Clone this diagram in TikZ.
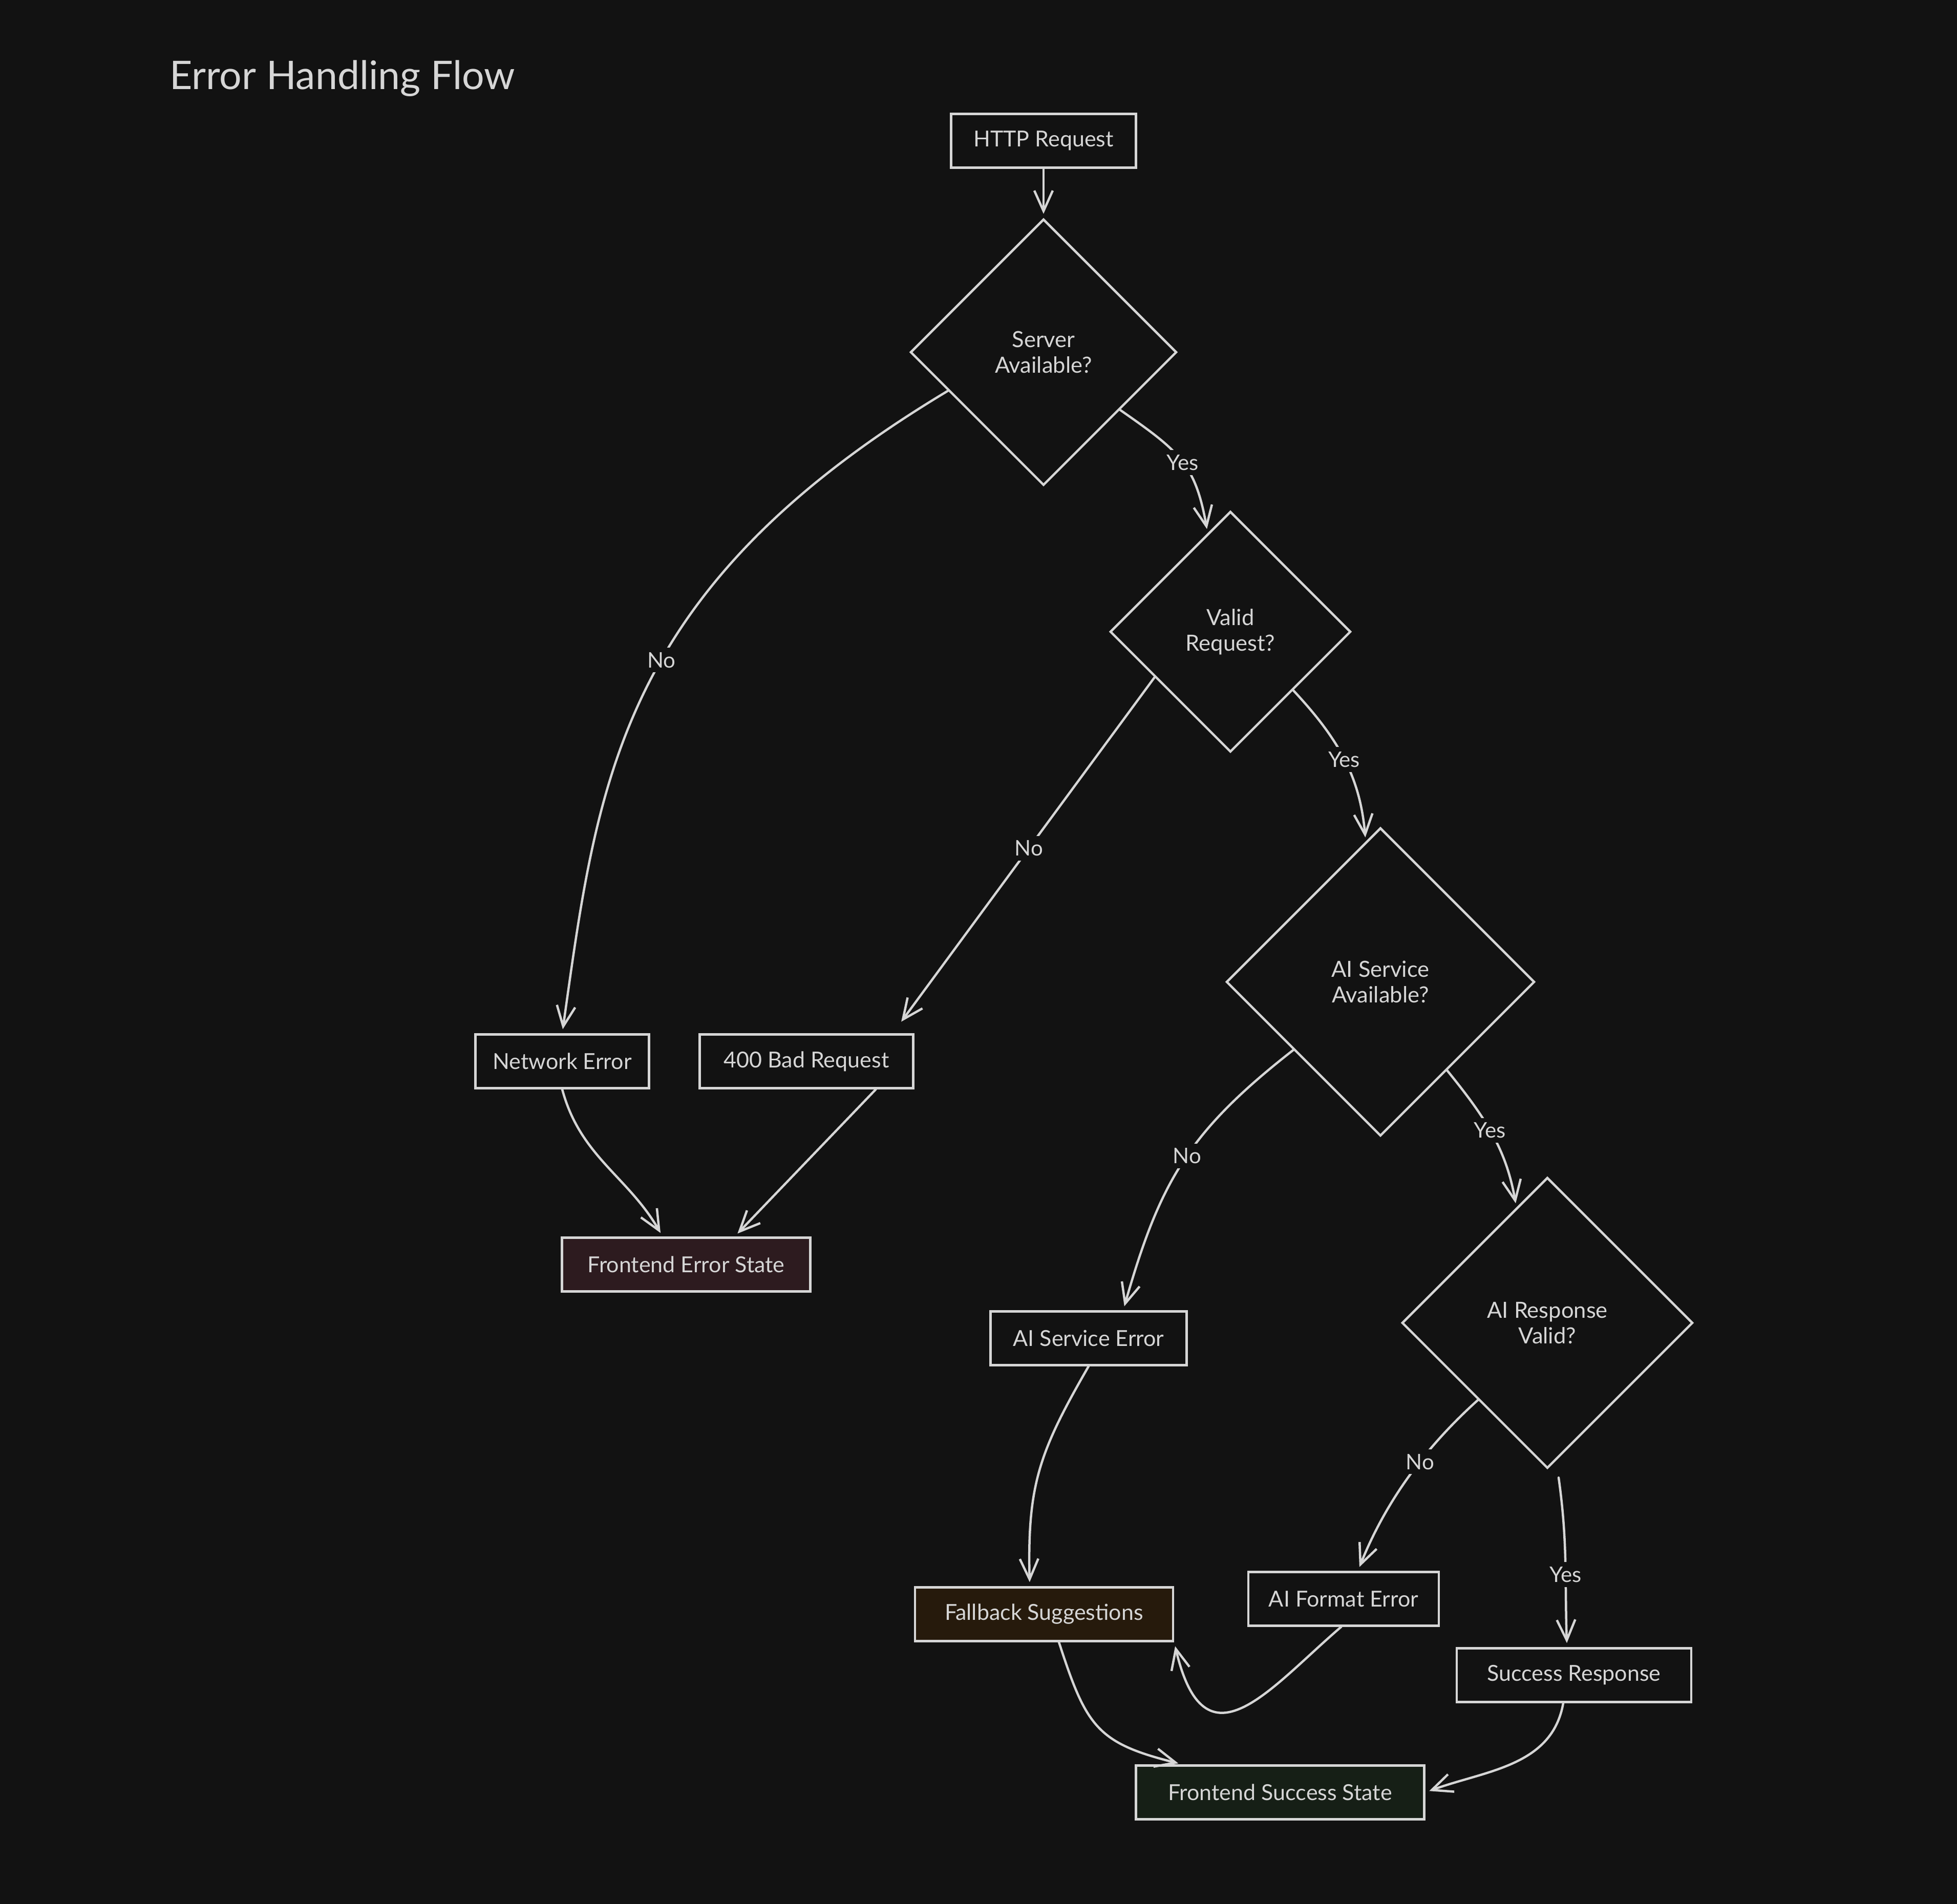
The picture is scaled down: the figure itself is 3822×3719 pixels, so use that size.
\documentclass[tikz,border=0pt]{standalone}
\usepackage{fontspec}
\setmainfont{Lato}
\usetikzlibrary{shapes.geometric,arrows.meta}
\definecolor{bg}{HTML}{121212}
\definecolor{ink}{HTML}{D6D6D6}
\definecolor{errfill}{HTML}{2D1B1F}
\definecolor{fbfill}{HTML}{261A0C}
\definecolor{okfill}{HTML}{161F16}
\begin{document}
\begin{tikzpicture}[x=0.1pt,y=0.1pt,
  box/.style={draw=ink, line width=0.45pt, fill=bg, minimum height=10.5pt, inner sep=0pt,
    text=ink, font=\fontsize{4.3}{5.2}\selectfont},
  decision/.style={diamond, draw=ink, line width=0.45pt, fill=bg, inner sep=0pt, align=center,
    text=ink, font=\fontsize{4.35}{5.0}\selectfont},
  conn/.style={draw=ink, line width=0.45pt, line cap=round,
    -{Straight Barb[length=4pt,width=3.6pt]}, shorten >=0.8pt},
  lbl/.style={fill=bg, text=ink, inner sep=0.9pt, font=\fontsize{4.2}{5.0}\selectfont},
  titlestyle/.style={text=ink, inner sep=0pt, anchor=base west, font=\fontsize{7.7}{9.2}\selectfont}
]
\fill[bg] (0,0) rectangle (3822,-3719);
\useasboundingbox (0,0) rectangle (3822,-3719);

\node[titlestyle] (title) at (329,-175) {Error Handling Flow};

\node[box, minimum width=36.1pt] (http) at (2038,-275) {HTTP Request};
\node[decision, minimum width=52pt, minimum height=52pt] (server) at (2038,-688) {Server\\Available?};
\node[decision, minimum width=47pt, minimum height=47pt] (valid) at (2403,-1234) {Valid\\Request?};
\node[decision, minimum width=60.2pt, minimum height=60.2pt] (aisvc) at (2696,-1918) {AI Service\\Available?};
\node[decision, minimum width=56.8pt, minimum height=56.8pt] (airesp) at (3022,-2584) {AI Response\\Valid?};

\node[box, minimum width=33.9pt] (neterr) at (1098,-2073) {Network Error};
\node[box, minimum width=41.7pt] (bad) at (1575,-2073) {400 Bad Request};
\node[box, minimum width=48.5pt, fill=errfill] (feerr) at (1340,-2470) {Frontend Error State};
\node[box, minimum width=38.3pt] (aierr) at (2126,-2614) {AI Service Error};
\node[box, minimum width=50.4pt, fill=fbfill] (fallback) at (2039,-3153) {Fallback Suggestions};
\node[box, minimum width=37.2pt] (aifmt) at (2624,-3123) {AI Format Error};
\node[box, minimum width=45.8pt] (success) at (3074,-3272) {Success Response};
\node[box, minimum width=56.3pt, fill=okfill] (fesucc) at (2500,-3501) {Frontend Success State};

% connectors
\draw[conn] (http.south) -- (server.north);
\draw[conn] (server.202) .. controls +(-643,-386) and +(70,495) .. node[lbl,pos=0.45] {No} (neterr.north);
\draw[conn] (server.323) to[out=-35,in=100,looseness=1.2] node[lbl,pos=0.52] {Yes} (valid.103);
\draw[conn, shorten >=2.8pt] (valid.211) -- node[lbl,pos=0.48] {No} (bad.18);
\draw[conn] (valid.317) to[out=-47,in=95] node[lbl,pos=0.5] {Yes} (aisvc.96);
\draw[conn] (neterr.south) to[out=-75,in=120] (feerr.130);
\draw[conn] (bad.338) -- (feerr.30);
\draw[conn] (aisvc.218) to[out=218,in=74,looseness=1.1] node[lbl,pos=0.47] {No} (aierr.39);
\draw[conn] (aisvc.307) to[out=-51,in=100] node[lbl,pos=0.47] {Yes} (airesp.105);
\draw[conn] (airesp.228) to[out=222,in=68,looseness=0.9] node[lbl,pos=0.4] {No} (aifmt.63);
\draw[conn] ([xshift=2.2pt,yshift=-1.6pt]airesp.south) to[out=-82,in=92] node[lbl,pos=0.58] {Yes} (success.104);
\draw[conn] (aierr.south) .. controls +(-95,-165) and +(-5,200) .. (fallback.117);
\draw[conn] (aifmt.265) .. controls +(-140,-120) and +(60,-255) .. (fallback.south east);
\draw[conn] (fallback.298) to[out=-72,in=166,looseness=1.3] (fesucc.164);
\draw[conn] (success.249) to[out=-100,in=20] (fesucc.east);
\end{tikzpicture}
\end{document}
